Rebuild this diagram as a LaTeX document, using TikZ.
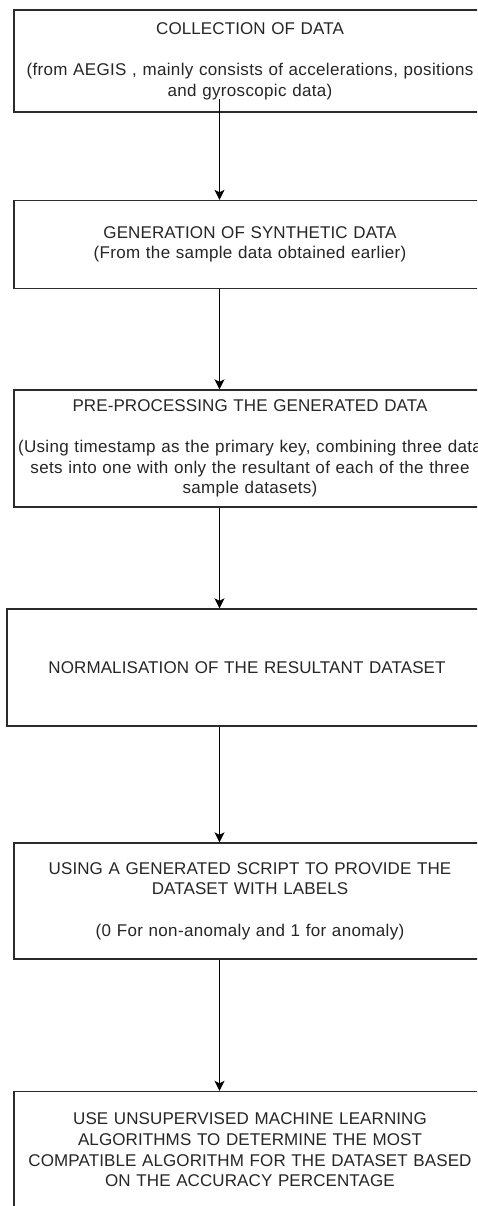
\documentclass[tikz,border=0pt]{standalone}
\usepackage{fontspec}
\setmainfont{Liberation Sans}[LetterSpace=0.6]
\newfontfamily\notefont{Liberation Sans}[LetterSpace=2]
\usetikzlibrary{arrows.meta}
\definecolor{inkline}{HTML}{2B2B2B}
\definecolor{inktext}{HTML}{262626}
\tikzset{
  stepbox/.style={draw=inkline, line width=1.4pt, rectangle, inner sep=0pt,
    text width=#1, align=center, text=inktext,
    font=\fontsize{17}{20.6}\selectfont},
  stepbox/.default=472pt,
  flow/.style={draw=black, line width=1.1pt,
    -{Stealth[length=10pt, width=10pt, inset=2.5pt]}},
}
\begin{document}
\begin{tikzpicture}[x=1pt, y=-1pt]
  \useasboundingbox (0,0) rectangle (477,1206);
  \fill[white] (0,0) rectangle (477,1206);
  \clip (0,0) rectangle (477,1206);

  \node[stepbox, minimum height=102pt] (b1) at (250,61)
    {COLLECTION OF DATA\\[20.6pt]
     \notefont (from AEGIS , mainly consists of accelerations, positions\\
     and gyroscopic data)};
  \node[stepbox, minimum height=88pt] (b2) at (250,244.5)
    {GENERATION OF SYNTHETIC DATA\\
     \notefont (From the sample data obtained earlier)};
  \node[stepbox, minimum height=117pt] (b3) at (250,448.5)
    {PRE-PROCESSING THE GENERATED DATA\\[20.6pt]
     \notefont (Using timestamp as the primary key, combining three data\\
     sets into one with only the resultant of each of the three\\
     sample datasets)};
  \node[stepbox=480pt, minimum height=117pt] (b4) at (247,667.5)
    {NORMALISATION OF THE RESULTANT DATASET};
  \node[stepbox, minimum height=116pt] (b5) at (250,901)
    {USING A GENERATED SCRIPT TO PROVIDE THE\\
     DATASET WITH LABELS\\[20.6pt]
     \notefont (0 For non-anomaly and 1 for anomaly)};
  \node[stepbox, minimum height=117pt] (b6) at (250,1150)
    {USE UNSUPERVISED MACHINE LEARNING\\
     ALGORITHMS TO DETERMINE THE MOST\\
     COMPATIBLE ALGORITHM FOR THE DATASET BASED\\
     ON THE ACCURACY PERCENTAGE};

  % connectors run down a common vertical line
  \coordinate (spine) at (219.5,0);
  \coordinate (c1out) at (219.5,99);
  \draw[flow] (c1out) -- (b2.north -| spine);
  \draw[flow] (b2.south -| spine) -- (b3.north -| spine);
  \draw[flow] (b3.south -| spine) -- (b4.north -| spine);
  \draw[flow] (b4.south -| spine) -- (b5.north -| spine);
  \draw[flow] (b5.south -| spine) -- (b6.north -| spine);
\end{tikzpicture}
\end{document}
